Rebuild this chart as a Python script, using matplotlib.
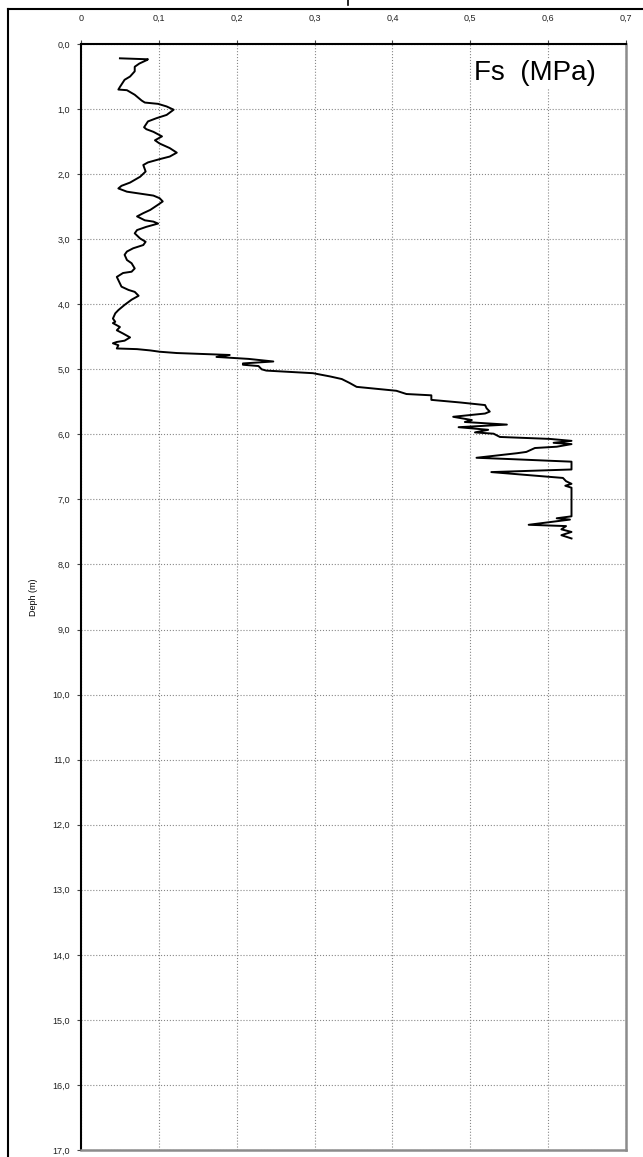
import matplotlib as mpl
mpl.use('Agg')
import matplotlib.pyplot as plt
from matplotlib.lines import Line2D
from matplotlib.ticker import FixedLocator, FixedFormatter

plt.rcParams['font.family'] = ['Liberation Sans', 'DejaVu Sans']

# sleeve friction profile
fs = [0.050, 0.086, 0.084, 0.075, 0.069, 0.069, 0.063, 0.056, 0.050, 0.048,
      0.059, 0.069, 0.078, 0.082, 0.099, 0.110, 0.119, 0.110, 0.097, 0.086,
      0.081, 0.084, 0.093, 0.104, 0.095, 0.101, 0.114, 0.123, 0.114, 0.101,
      0.086, 0.080, 0.083, 0.076, 0.063, 0.052, 0.048, 0.059, 0.076, 0.093,
      0.101, 0.105, 0.099, 0.089, 0.080, 0.072, 0.082, 0.093, 0.099, 0.084,
      0.072, 0.069, 0.076, 0.083, 0.080, 0.067, 0.059, 0.056, 0.059, 0.065,
      0.069, 0.065, 0.054, 0.046, 0.048, 0.052, 0.061, 0.069, 0.074, 0.065,
      0.056, 0.048, 0.044, 0.041, 0.044, 0.041, 0.050, 0.046, 0.054, 0.063,
      0.056, 0.046, 0.041, 0.048, 0.046, 0.072, 0.089, 0.101, 0.123, 0.166,
      0.191, 0.174, 0.215, 0.247, 0.208, 0.208, 0.228, 0.232, 0.238, 0.298,
      0.320, 0.335, 0.345, 0.354, 0.405, 0.418, 0.450, 0.450, 0.487, 0.519,
      0.521, 0.525, 0.519, 0.478, 0.502, 0.493, 0.547, 0.485, 0.523, 0.506,
      0.530, 0.538, 0.602, 0.630, 0.607, 0.630, 0.611, 0.583, 0.572, 0.560,
      0.508, 0.551, 0.630, 0.630, 0.527, 0.598, 0.619, 0.623, 0.630, 0.622,
      0.630, 0.630, 0.611, 0.628, 0.575, 0.623, 0.617, 0.630, 0.617, 0.630]
depth = [0.22, 0.235, 0.25, 0.30, 0.35, 0.42, 0.50, 0.55, 0.66, 0.70,
         0.71, 0.78, 0.87, 0.90, 0.92, 0.96, 1.01, 1.09, 1.14, 1.19,
         1.28, 1.31, 1.35, 1.42, 1.48, 1.53, 1.60, 1.67, 1.73, 1.77,
         1.82, 1.86, 1.96, 2.04, 2.13, 2.18, 2.22, 2.27, 2.30, 2.33,
         2.37, 2.42, 2.47, 2.55, 2.60, 2.65, 2.71, 2.73, 2.76, 2.81,
         2.86, 2.91, 2.99, 3.04, 3.09, 3.14, 3.19, 3.24, 3.32, 3.37,
         3.45, 3.50, 3.52, 3.58, 3.63, 3.73, 3.78, 3.81, 3.87, 3.93,
         4.01, 4.09, 4.14, 4.22, 4.27, 4.29, 4.35, 4.40, 4.45, 4.51,
         4.56, 4.58, 4.60, 4.63, 4.68, 4.69, 4.71, 4.73, 4.75, 4.77,
         4.78, 4.81, 4.84, 4.88, 4.91, 4.93, 4.95, 5.00, 5.02, 5.06,
         5.11, 5.15, 5.21, 5.27, 5.33, 5.38, 5.40, 5.47, 5.51, 5.55,
         5.60, 5.65, 5.68, 5.73, 5.78, 5.81, 5.85, 5.89, 5.93, 5.97,
         5.99, 6.04, 6.07, 6.10, 6.13, 6.15, 6.19, 6.21, 6.27, 6.29,
         6.36, 6.38, 6.42, 6.54, 6.58, 6.65, 6.67, 6.72, 6.76, 6.79,
         6.82, 7.26, 7.29, 7.31, 7.39, 7.41, 7.46, 7.50, 7.55, 7.60]

x_ticks = [0, 0.1, 0.2, 0.3, 0.4, 0.5, 0.6, 0.7]
x_labels = ['0', '0,1', '0,2', '0,3', '0,4', '0,5', '0,6', '0,7']
y_ticks = list(range(0, 18))
y_labels = ['%d,0' % d for d in y_ticks]

fig = plt.figure(figsize=(6.43, 11.57), dpi=100)
ax = fig.add_axes([81 / 643, 1 - 1150 / 1157, 545 / 643, 1106 / 1157])

ax.plot(fs, depth, color='black', lw=1.4)

ax.set_xlim(0, 0.7)
ax.set_ylim(17, 0)
ax.xaxis.set_major_locator(FixedLocator(x_ticks))
ax.xaxis.set_major_formatter(FixedFormatter(x_labels))
ax.yaxis.set_major_locator(FixedLocator(y_ticks))
ax.yaxis.set_major_formatter(FixedFormatter(y_labels))
ax.xaxis.tick_top()
ax.tick_params(axis='x', length=3, pad=12, labelsize=6.5, color='#444444',
               labelcolor='#222222')
ax.tick_params(axis='y', length=3, pad=5, labelsize=6.5, color='#444444',
               labelcolor='#222222')
ax.grid(True, color='#888888', ls=':', lw=0.8)
ax.set_axisbelow(True)

for side in ['top', 'left']:
    ax.spines[side].set_color('black')
    ax.spines[side].set_linewidth(1.5)
for side in ['right', 'bottom']:
    ax.spines[side].set_color('#8c8c8c')
    ax.spines[side].set_linewidth(1.8)

ax.set_ylabel('Deph (m)', fontsize=6.5, labelpad=10)

ax.text(0.583, 0.45, 'Fs  (MPa)', fontsize=20, ha='center', va='center',
        bbox=dict(facecolor='white', edgecolor='none', pad=1))

# outer frame (only top and left edge visible in the crop)
fig.add_artist(Line2D([8 / 643, 1.0], [1 - 9 / 1157, 1 - 9 / 1157],
                      transform=fig.transFigure, color='black', lw=1.5))
fig.add_artist(Line2D([8 / 643, 8 / 643], [1 - 9 / 1157, 0.0],
                      transform=fig.transFigure, color='black', lw=1.5))
# small clipped mark at the top
fig.add_artist(Line2D([348 / 643, 348 / 643], [1.0, 1 - 5 / 1157],
                      transform=fig.transFigure, color='black', lw=1.2))

fig.savefig('out.png', dpi=100)
